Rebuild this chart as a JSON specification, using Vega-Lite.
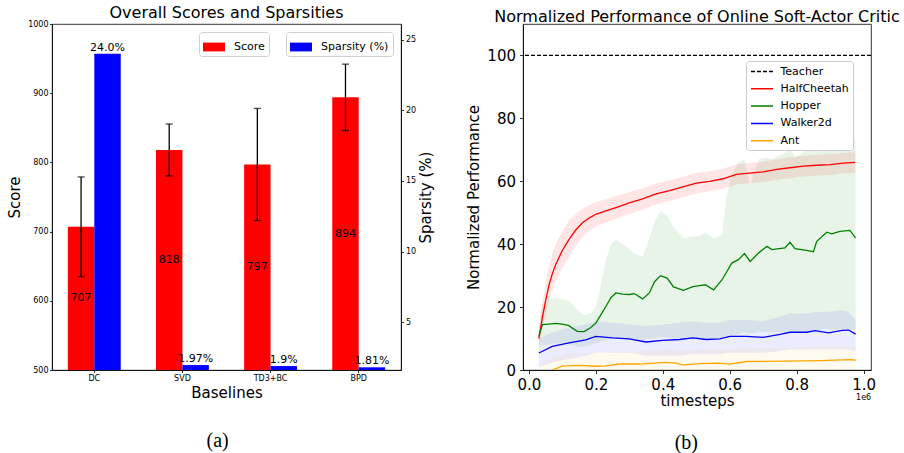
{
  "$schema": "https://vega.github.io/schema/vega-lite/v6.json",
  "background": "white",
  "padding": {"left": 7, "top": 4, "right": 0, "bottom": 0},
  "datasets": {
    "bars": [
      {"baseline": "DC", "score": 707, "lo": 635, "hi": 779, "sparsity": 24.0},
      {"baseline": "SVD", "score": 818, "lo": 780.5, "hi": 855.5, "sparsity": 1.97},
      {"baseline": "TD3+BC", "score": 797, "lo": 716, "hi": 878, "sparsity": 1.9},
      {"baseline": "BPD", "score": 894, "lo": 846, "hi": 942, "sparsity": 1.81}
    ],
    "curves": [
      {"series": "HalfCheetah", "t": 0.03, "mean": 10, "lo": 8, "hi": 13},
      {"series": "HalfCheetah", "t": 0.04, "mean": 16.5, "lo": 13, "hi": 21},
      {"series": "HalfCheetah", "t": 0.05, "mean": 22, "lo": 17.5, "hi": 27.5},
      {"series": "HalfCheetah", "t": 0.06, "mean": 27, "lo": 22, "hi": 33},
      {"series": "HalfCheetah", "t": 0.07, "mean": 30.5, "lo": 25, "hi": 37},
      {"series": "HalfCheetah", "t": 0.08, "mean": 33.5, "lo": 28, "hi": 40},
      {"series": "HalfCheetah", "t": 0.10, "mean": 38, "lo": 32.5, "hi": 44},
      {"series": "HalfCheetah", "t": 0.12, "mean": 41.5, "lo": 36, "hi": 47.5},
      {"series": "HalfCheetah", "t": 0.14, "mean": 44.5, "lo": 39.5, "hi": 49.5},
      {"series": "HalfCheetah", "t": 0.16, "mean": 46.8, "lo": 42.3, "hi": 51.3},
      {"series": "HalfCheetah", "t": 0.18, "mean": 48.3, "lo": 44.2, "hi": 52.4},
      {"series": "HalfCheetah", "t": 0.20, "mean": 49.5, "lo": 45.6, "hi": 53.4},
      {"series": "HalfCheetah", "t": 0.23, "mean": 50.6, "lo": 46.9, "hi": 54.3},
      {"series": "HalfCheetah", "t": 0.26, "mean": 51.6, "lo": 48, "hi": 55.2},
      {"series": "HalfCheetah", "t": 0.30, "mean": 53.1, "lo": 49.6, "hi": 56.6},
      {"series": "HalfCheetah", "t": 0.34, "mean": 54.4, "lo": 51, "hi": 57.8},
      {"series": "HalfCheetah", "t": 0.38, "mean": 56, "lo": 52.6, "hi": 59.3},
      {"series": "HalfCheetah", "t": 0.42, "mean": 57, "lo": 53.7, "hi": 60.3},
      {"series": "HalfCheetah", "t": 0.46, "mean": 58.2, "lo": 54.9, "hi": 61.4},
      {"series": "HalfCheetah", "t": 0.50, "mean": 59.4, "lo": 56.1, "hi": 62.6},
      {"series": "HalfCheetah", "t": 0.54, "mean": 60, "lo": 56.8, "hi": 63.2},
      {"series": "HalfCheetah", "t": 0.58, "mean": 60.8, "lo": 57.6, "hi": 64},
      {"series": "HalfCheetah", "t": 0.62, "mean": 62.2, "lo": 59, "hi": 65.4},
      {"series": "HalfCheetah", "t": 0.66, "mean": 62.6, "lo": 59.4, "hi": 65.8},
      {"series": "HalfCheetah", "t": 0.70, "mean": 63, "lo": 59.8, "hi": 66.2},
      {"series": "HalfCheetah", "t": 0.74, "mean": 63.8, "lo": 60.5, "hi": 67},
      {"series": "HalfCheetah", "t": 0.78, "mean": 64.3, "lo": 61, "hi": 67.6},
      {"series": "HalfCheetah", "t": 0.82, "mean": 64.8, "lo": 61.5, "hi": 68},
      {"series": "HalfCheetah", "t": 0.86, "mean": 65.1, "lo": 61.8, "hi": 68.4},
      {"series": "HalfCheetah", "t": 0.90, "mean": 65.3, "lo": 62, "hi": 68.6},
      {"series": "HalfCheetah", "t": 0.94, "mean": 65.8, "lo": 62.5, "hi": 69},
      {"series": "HalfCheetah", "t": 0.975, "mean": 66, "lo": 62.7, "hi": 69.3},

      {"series": "Hopper", "t": 0.03, "mean": 10.7, "lo": 7, "hi": 14},
      {"series": "Hopper", "t": 0.04, "mean": 14.4, "lo": 8, "hi": 21},
      {"series": "Hopper", "t": 0.06, "mean": 14.6, "lo": 8, "hi": 22.5},
      {"series": "Hopper", "t": 0.08, "mean": 14.8, "lo": 8.5, "hi": 23},
      {"series": "Hopper", "t": 0.10, "mean": 14.6, "lo": 8.5, "hi": 22.5},
      {"series": "Hopper", "t": 0.12, "mean": 14.1, "lo": 8, "hi": 22},
      {"series": "Hopper", "t": 0.13, "mean": 13.3, "lo": 8, "hi": 21},
      {"series": "Hopper", "t": 0.145, "mean": 12.3, "lo": 7.5, "hi": 19},
      {"series": "Hopper", "t": 0.165, "mean": 12.2, "lo": 7.5, "hi": 17.5},
      {"series": "Hopper", "t": 0.185, "mean": 13.5, "lo": 8, "hi": 18},
      {"series": "Hopper", "t": 0.20, "mean": 14.9, "lo": 8.5, "hi": 20},
      {"series": "Hopper", "t": 0.215, "mean": 17.5, "lo": 9, "hi": 27},
      {"series": "Hopper", "t": 0.23, "mean": 20.2, "lo": 9.5, "hi": 35},
      {"series": "Hopper", "t": 0.245, "mean": 23, "lo": 10, "hi": 40},
      {"series": "Hopper", "t": 0.26, "mean": 24.5, "lo": 10, "hi": 41.5},
      {"series": "Hopper", "t": 0.28, "mean": 24.1, "lo": 10, "hi": 40},
      {"series": "Hopper", "t": 0.30, "mean": 24.0, "lo": 10, "hi": 38.5},
      {"series": "Hopper", "t": 0.315, "mean": 24.3, "lo": 10, "hi": 37},
      {"series": "Hopper", "t": 0.34, "mean": 22.6, "lo": 9.5, "hi": 36},
      {"series": "Hopper", "t": 0.36, "mean": 24.5, "lo": 10, "hi": 42},
      {"series": "Hopper", "t": 0.375, "mean": 28, "lo": 10, "hi": 47},
      {"series": "Hopper", "t": 0.393, "mean": 30.0, "lo": 10.5, "hi": 50.5},
      {"series": "Hopper", "t": 0.413, "mean": 29.2, "lo": 10.5, "hi": 49},
      {"series": "Hopper", "t": 0.432, "mean": 26.4, "lo": 10, "hi": 45.5},
      {"series": "Hopper", "t": 0.462, "mean": 25.3, "lo": 10, "hi": 42},
      {"series": "Hopper", "t": 0.49, "mean": 26.5, "lo": 10, "hi": 42.5},
      {"series": "Hopper", "t": 0.51, "mean": 26.8, "lo": 10, "hi": 42.6},
      {"series": "Hopper", "t": 0.527, "mean": 27.1, "lo": 10, "hi": 43.6},
      {"series": "Hopper", "t": 0.552, "mean": 25.5, "lo": 10, "hi": 42},
      {"series": "Hopper", "t": 0.577, "mean": 28.7, "lo": 10.5, "hi": 43},
      {"series": "Hopper", "t": 0.59, "mean": 31, "lo": 11, "hi": 55},
      {"series": "Hopper", "t": 0.606, "mean": 34.0, "lo": 11, "hi": 62},
      {"series": "Hopper", "t": 0.626, "mean": 35.1, "lo": 11.5, "hi": 66},
      {"series": "Hopper", "t": 0.644, "mean": 37.0, "lo": 12, "hi": 67},
      {"series": "Hopper", "t": 0.661, "mean": 34.5, "lo": 11.5, "hi": 58.5},
      {"series": "Hopper", "t": 0.686, "mean": 37.2, "lo": 12, "hi": 67},
      {"series": "Hopper", "t": 0.711, "mean": 39.3, "lo": 12, "hi": 67.5},
      {"series": "Hopper", "t": 0.726, "mean": 38.3, "lo": 12, "hi": 67},
      {"series": "Hopper", "t": 0.765, "mean": 38.8, "lo": 12, "hi": 69},
      {"series": "Hopper", "t": 0.78, "mean": 40.6, "lo": 12.5, "hi": 70.5},
      {"series": "Hopper", "t": 0.795, "mean": 38.6, "lo": 12, "hi": 67.5},
      {"series": "Hopper", "t": 0.83, "mean": 38.0, "lo": 12, "hi": 70},
      {"series": "Hopper", "t": 0.85, "mean": 37.6, "lo": 12, "hi": 72},
      {"series": "Hopper", "t": 0.86, "mean": 40.9, "lo": 12.5, "hi": 74},
      {"series": "Hopper", "t": 0.89, "mean": 43.8, "lo": 13, "hi": 75.5},
      {"series": "Hopper", "t": 0.905, "mean": 43.3, "lo": 13, "hi": 75},
      {"series": "Hopper", "t": 0.929, "mean": 44.1, "lo": 13, "hi": 76},
      {"series": "Hopper", "t": 0.959, "mean": 44.4, "lo": 13, "hi": 75.5},
      {"series": "Hopper", "t": 0.976, "mean": 42.0, "lo": 12.5, "hi": 73},

      {"series": "Walker2d", "t": 0.03, "mean": 5.4, "lo": 1, "hi": 10},
      {"series": "Walker2d", "t": 0.07, "mean": 7.5, "lo": 2.5, "hi": 12},
      {"series": "Walker2d", "t": 0.12, "mean": 8.6, "lo": 3.5, "hi": 13.5},
      {"series": "Walker2d", "t": 0.17, "mean": 9.6, "lo": 4.5, "hi": 14.5},
      {"series": "Walker2d", "t": 0.20, "mean": 10.7, "lo": 5.5, "hi": 15.5},
      {"series": "Walker2d", "t": 0.25, "mean": 10.2, "lo": 5.5, "hi": 15},
      {"series": "Walker2d", "t": 0.30, "mean": 9.9, "lo": 5.5, "hi": 14.5},
      {"series": "Walker2d", "t": 0.35, "mean": 8.9, "lo": 4.5, "hi": 14},
      {"series": "Walker2d", "t": 0.40, "mean": 9.4, "lo": 4.5, "hi": 14.5},
      {"series": "Walker2d", "t": 0.45, "mean": 9.7, "lo": 4.5, "hi": 15},
      {"series": "Walker2d", "t": 0.49, "mean": 10.2, "lo": 5, "hi": 15.5},
      {"series": "Walker2d", "t": 0.53, "mean": 9.7, "lo": 5, "hi": 15},
      {"series": "Walker2d", "t": 0.57, "mean": 9.9, "lo": 5, "hi": 15},
      {"series": "Walker2d", "t": 0.60, "mean": 10.7, "lo": 5.5, "hi": 16},
      {"series": "Walker2d", "t": 0.65, "mean": 10.7, "lo": 5.5, "hi": 16},
      {"series": "Walker2d", "t": 0.70, "mean": 10.4, "lo": 5.5, "hi": 15.5},
      {"series": "Walker2d", "t": 0.75, "mean": 11.3, "lo": 6, "hi": 17},
      {"series": "Walker2d", "t": 0.78, "mean": 12.0, "lo": 6.5, "hi": 18},
      {"series": "Walker2d", "t": 0.83, "mean": 12.0, "lo": 6.5, "hi": 18},
      {"series": "Walker2d", "t": 0.855, "mean": 12.5, "lo": 6.5, "hi": 18.5},
      {"series": "Walker2d", "t": 0.895, "mean": 11.8, "lo": 6.5, "hi": 18.5},
      {"series": "Walker2d", "t": 0.935, "mean": 12.6, "lo": 6.5, "hi": 19},
      {"series": "Walker2d", "t": 0.955, "mean": 12.7, "lo": 6.5, "hi": 18.5},
      {"series": "Walker2d", "t": 0.976, "mean": 11.4, "lo": 6, "hi": 16},

      {"series": "Ant", "t": 0.03, "mean": -4, "lo": -8, "hi": 1},
      {"series": "Ant", "t": 0.05, "mean": -2, "lo": -6, "hi": 3},
      {"series": "Ant", "t": 0.07, "mean": 0, "lo": -4, "hi": 4},
      {"series": "Ant", "t": 0.10, "mean": 1.2, "lo": -3, "hi": 5},
      {"series": "Ant", "t": 0.15, "mean": 1.5, "lo": -2.5, "hi": 5.5},
      {"series": "Ant", "t": 0.20, "mean": 1.2, "lo": -3, "hi": 5.5},
      {"series": "Ant", "t": 0.23, "mean": 1.3, "lo": -3, "hi": 5.5},
      {"series": "Ant", "t": 0.27, "mean": 1.9, "lo": -2.5, "hi": 6},
      {"series": "Ant", "t": 0.33, "mean": 1.9, "lo": -2.5, "hi": 6},
      {"series": "Ant", "t": 0.41, "mean": 2.4, "lo": -2, "hi": 6.5},
      {"series": "Ant", "t": 0.44, "mean": 2.2, "lo": -2, "hi": 6.5},
      {"series": "Ant", "t": 0.46, "mean": 1.6, "lo": -2.5, "hi": 6},
      {"series": "Ant", "t": 0.51, "mean": 2.0, "lo": -2, "hi": 6.5},
      {"series": "Ant", "t": 0.57, "mean": 2.2, "lo": -2, "hi": 6.5},
      {"series": "Ant", "t": 0.60, "mean": 1.9, "lo": -2, "hi": 6.5},
      {"series": "Ant", "t": 0.65, "mean": 2.7, "lo": -1.5, "hi": 7},
      {"series": "Ant", "t": 0.77, "mean": 2.8, "lo": -1.5, "hi": 7},
      {"series": "Ant", "t": 0.87, "mean": 3.0, "lo": -1.5, "hi": 7.5},
      {"series": "Ant", "t": 0.96, "mean": 3.3, "lo": -1, "hi": 7.5},
      {"series": "Ant", "t": 0.976, "mean": 3.1, "lo": -1, "hi": 7.5}
    ]
  },
  "spacing": 31,
  "resolve": {
    "scale": {"color": "independent", "fill": "independent", "fillOpacity": "independent"},
    "legend": {"color": "independent", "fill": "independent", "fillOpacity": "independent"}
  },
  "hconcat": [
    {
      "title": {"text": "(a)", "orient": "bottom", "font": "Liberation Serif", "fontSize": 20, "offset": 30, "dx": -3},
      "resolve": {
        "scale": {"color": "independent"},
        "legend": {"color": "independent"}
      },
      "vconcat": [
        {
          "width": 349,
          "height": 346,
          "title": {"text": "Overall Scores and Sparsities", "offset": -1},
          "data": {"name": "bars"},
          "encoding": {
            "x": {
              "field": "baseline", "type": "nominal", "sort": null,
              "scale": {"paddingInner": 0.4, "paddingOuter": 0.18},
              "axis": {"title": "Baselines", "labelAngle": 0, "labelFontSize": 8, "titleFontSize": 15, "tickSize": 2.5, "labelPadding": 2, "titlePadding": 3}
            }
          },
          "layer": [
            {
              "layer": [
                {
                  "mark": {"type": "bar", "clip": true},
                  "encoding": {
                    "xOffset": {"datum": "Score", "scale": {"domain": ["Score", "Sparsity (%)"], "paddingInner": 0, "paddingOuter": 0}},
                    "y": {"field": "score", "type": "quantitative", "scale": {"domain": [500, 1000], "nice": false, "zero": false},
                      "axis": {"title": "Score", "orient": "left", "values": [500, 600, 700, 800, 900, 1000], "format": "d", "labelFontSize": 8, "titleFontSize": 15, "tickSize": 2.5, "labelPadding": 1.5, "titlePadding": 5, "labelFlush": false}},
                    "color": {"datum": "Score", "scale": {"domain": ["Score"], "range": ["red"]},
                      "legend": {"title": null, "orient": "none", "legendX": 147, "legendY": 8, "labelFontSize": 11, "symbolType": "M-1,-0.4H1V0.4H-1Z", "symbolSize": 484, "symbolStrokeWidth": 0, "labelOffset": 9, "padding": 4, "strokeColor": "#d0d0d0", "fillColor": "white", "cornerRadius": 3}}
                  }
                },
                {
                  "mark": {"type": "rule", "color": "black", "strokeWidth": 1.3},
                  "encoding": {
                    "xOffset": {"datum": "Score"},
                    "y": {"field": "lo", "type": "quantitative"},
                    "y2": {"field": "hi"}
                  }
                },
                {
                  "mark": {"type": "tick", "color": "black", "size": 7, "thickness": 1.3},
                  "encoding": {
                    "xOffset": {"datum": "Score"},
                    "y": {"field": "lo", "type": "quantitative"}
                  }
                },
                {
                  "mark": {"type": "tick", "color": "black", "size": 7, "thickness": 1.3},
                  "encoding": {
                    "xOffset": {"datum": "Score"},
                    "y": {"field": "hi", "type": "quantitative"}
                  }
                }
              ]
            },
            {
              "layer": [
                {
                  "mark": {"type": "bar", "clip": true},
                  "encoding": {
                    "xOffset": {"datum": "Sparsity (%)"},
                    "y": {"field": "sparsity", "type": "quantitative", "scale": {"domain": [1.62, 26.1], "nice": false, "zero": false},
                      "axis": {"title": "Sparsity (%)", "orient": "right", "titleAngle": 270, "titleBaseline": "top", "values": [5, 10, 15, 20, 25], "labelFontSize": 8, "titleFontSize": 15, "tickSize": 2.5, "labelPadding": 2, "titlePadding": 3, "labelFlush": false}},
                    "color": {"datum": "Sparsity (%)", "scale": {"domain": ["Sparsity (%)"], "range": ["blue"]},
                      "legend": {"title": null, "orient": "none", "legendX": 234, "legendY": 8, "labelFontSize": 11, "symbolType": "M-1,-0.4H1V0.4H-1Z", "symbolSize": 484, "symbolStrokeWidth": 0, "labelOffset": 9, "padding": 4, "strokeColor": "#d0d0d0", "fillColor": "white", "cornerRadius": 3}}
                  }
                },
                {
                  "mark": {"type": "text", "fontSize": 11, "baseline": "bottom", "dy": -1, "color": "black",
                    "text": {"expr": "(datum.sparsity >= 10 ? format(datum.sparsity, '.1f') : datum.sparsity) + '%'"}},
                  "encoding": {
                    "xOffset": {"datum": "Sparsity (%)"},
                    "y": {"field": "sparsity", "type": "quantitative"}
                  }
                }
              ]
            },
            {
              "mark": {"type": "text", "fontSize": 11, "color": "black"},
              "encoding": {
                "xOffset": {"datum": "Score"},
                "y": {"field": "score", "type": "quantitative", "scale": {"domain": [500, 1500], "nice": false, "zero": false}, "axis": null},
                "text": {"field": "score", "type": "quantitative"}
              }
            }
          ],
          "resolve": {"scale": {"y": "independent", "color": "independent"}}
        }
      ]
    },
    {
      "title": {"text": "(b)", "orient": "bottom", "font": "Liberation Serif", "fontSize": 20, "offset": 25, "dx": 3},
      "resolve": {
        "scale": {"color": "independent", "fill": "independent", "fillOpacity": "independent"},
        "legend": {"color": "independent", "fill": "independent", "fillOpacity": "independent"}
      },
      "vconcat": [
        {
          "width": 348,
          "height": 346,
          "title": {"text": "Normalized Performance of Online Soft-Actor Critic", "offset": -1},
          "layer": [
            {
              "data": {"name": "curves"},
              "mark": {"type": "area", "clip": true},
              "encoding": {
                "x": {"field": "t", "type": "quantitative", "scale": {"domain": [-0.0175, 1.022], "nice": false, "zero": false},
                  "axis": {"title": "timesteps", "values": [0, 0.2, 0.4, 0.6, 0.8, 1.0], "format": ".1f", "labelFontSize": 15, "titleFontSize": 15, "tickSize": 3.5, "labelPadding": 3.5, "titlePadding": 1, "labelFlush": false}},
                "y": {"field": "lo", "type": "quantitative", "scale": {"domain": [0, 110], "nice": false},
                  "axis": {"title": "Normalized Performance", "values": [0, 20, 40, 60, 80, 100], "labelFontSize": 15, "titleFontSize": 15, "tickSize": 3.5, "labelPadding": 4, "titlePadding": 5, "labelFlush": false}},
                "y2": {"field": "hi"},
                "fill": {"field": "series", "type": "nominal", "scale": {"domain": ["HalfCheetah", "Hopper", "Walker2d", "Ant"], "range": ["red", "green", "blue", "orange"]}, "legend": null},
                "fillOpacity": {"field": "series", "type": "ordinal", "scale": {"domain": ["HalfCheetah", "Hopper", "Walker2d", "Ant"], "range": [0.1, 0.06, 0.1, 0.07]}, "legend": null}
              }
            },
            {
              "data": {"name": "curves"},
              "mark": {"type": "line", "clip": true, "strokeWidth": 1.3},
              "encoding": {
                "x": {"field": "t", "type": "quantitative"},
                "y": {"field": "mean", "type": "quantitative"},
                "color": {"field": "series", "type": "nominal",
                  "scale": {"domain": ["Teacher", "HalfCheetah", "Hopper", "Walker2d", "Ant"], "range": ["black", "red", "green", "blue", "orange"]},
                  "legend": {"title": null, "orient": "none", "legendX": 223, "legendY": 37, "symbolType": "M-2,0H2", "symbolSize": 121, "symbolOffset": 5.5, "symbolStrokeWidth": 1.5, "labelFontSize": 11, "padding": 4, "rowPadding": 5.3, "labelOffset": 12, "strokeColor": "#cccccc", "fillColor": "white", "cornerRadius": 3,
                    "encode": {"symbols": {"update": {"strokeDash": {"signal": "datum.value === 'Teacher' ? [4, 2] : [1, 0]"}}}}}
                }
              }
            },
            {
              "data": {"values": [{}]},
              "mark": {"type": "rule", "strokeDash": [4, 2], "strokeWidth": 1.2},
              "encoding": {
                "y": {"datum": 100},
                "color": {"datum": "Teacher"}
              }
            },
            {
              "data": {"values": [{}]},
              "mark": {"type": "text", "fontSize": 8, "baseline": "middle", "text": "1e6", "color": "black"},
              "encoding": {
                "x": {"datum": 1},
                "y": {"datum": -8.9}
              }
            }
          ]
        }
      ]
    }
  ],
  "config": {
    "font": "DejaVu Sans",
    "view": {"stroke": "black", "strokeWidth": 0.8},
    "title": {"fontSize": 16, "fontWeight": "normal", "color": "black", "anchor": "middle"},
    "axis": {"grid": false, "domainColor": "black", "tickColor": "black", "labelColor": "black", "titleColor": "black", "titleFontWeight": "normal", "domainWidth": 0.8, "tickWidth": 0.8},
    "legend": {"labelColor": "black"}
  }
}
